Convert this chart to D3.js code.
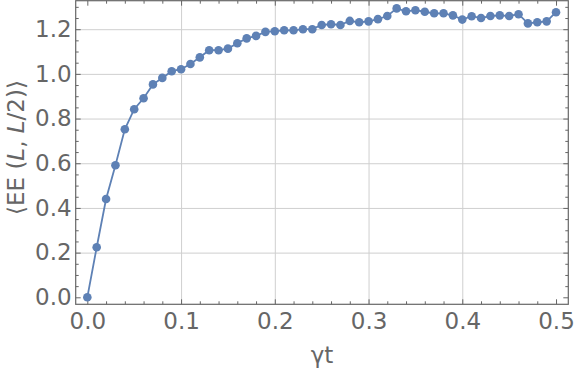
<!DOCTYPE html>
<html>
<head>
<meta charset="utf-8">
<script src="https://cdn.jsdelivr.net/npm/d3@7"></script>
<style>
  body { margin: 0; background: #fff; }
  svg { display: block; font-family: "DejaVu Sans", sans-serif; }
</style>
</head>
<body>
<div id="chart"></div>
<script>
// chart data
const gammaT = [0.00, 0.01, 0.02, 0.03, 0.04, 0.05, 0.06, 0.07, 0.08, 0.09,
                0.10, 0.11, 0.12, 0.13, 0.14, 0.15, 0.16, 0.17, 0.18, 0.19,
                0.20, 0.21, 0.22, 0.23, 0.24, 0.25, 0.26, 0.27, 0.28, 0.29,
                0.30, 0.31, 0.32, 0.33, 0.34, 0.35, 0.36, 0.37, 0.38, 0.39,
                0.40, 0.41, 0.42, 0.43, 0.44, 0.45, 0.46, 0.47, 0.48, 0.49, 0.50];
const ee = [0, 0.224, 0.440, 0.591, 0.752, 0.842, 0.891, 0.953, 0.982, 1.012,
            1.021, 1.044, 1.074, 1.106, 1.106, 1.113, 1.137, 1.159, 1.170, 1.188,
            1.191, 1.195, 1.195, 1.200, 1.200, 1.219, 1.222, 1.219, 1.237, 1.231,
            1.235, 1.245, 1.259, 1.293, 1.280, 1.285, 1.278, 1.271, 1.271, 1.262,
            1.243, 1.258, 1.250, 1.259, 1.262, 1.259, 1.267, 1.226, 1.231, 1.235, 1.276];

const xTicks = [0, 0.1, 0.2, 0.3, 0.4, 0.5];
const xTickLabels = ["0.0", "0.1", "0.2", "0.3", "0.4", "0.5"];
const xMinor = [0.02, 0.04, 0.06, 0.08, 0.12, 0.14, 0.16, 0.18, 0.22, 0.24, 0.26, 0.28,
                0.32, 0.34, 0.36, 0.38, 0.42, 0.44, 0.46, 0.48];
const xGrid = [0.1, 0.2, 0.3, 0.4];

const yTicks = [0, 0.2, 0.4, 0.6, 0.8, 1.0, 1.2];
const yTickLabels = ["0.0", "0.2", "0.4", "0.6", "0.8", "1.0", "1.2"];
const yMinor = [0.05, 0.1, 0.15, 0.25, 0.3, 0.35, 0.45, 0.5, 0.55, 0.65, 0.7, 0.75,
                0.85, 0.9, 0.95, 1.05, 1.1, 1.15, 1.25, 1.3];
const yGrid = [0.2, 0.4, 0.6, 0.8, 1.0, 1.2];

// size and plot frame
const width = 576;
const height = 372;
const frame = {left: 75.7, right: 568.3, top: 0.7, bottom: 304.3};
const lineColor = "#5e81b5";
const axisColor = "#666";
const gridColor = "#cfcfcf";

const svg = d3.select("#chart")
  .append("svg")
  .attr("width", width)
  .attr("height", height);

const xScale = d3.scaleLinear()
  .domain([-0.0124, 0.5131])
  .range([frame.left, frame.right]);

const yScale = d3.scaleLinear()
  .domain([-0.0313, 1.3275])
  .range([frame.bottom, frame.top]);

const plotW = frame.right - frame.left;
const plotH = frame.bottom - frame.top;

// grid lines
svg.append("g")
  .attr("transform", `translate(0,${frame.bottom})`)
  .call(d3.axisBottom(xScale).tickValues(xGrid).tickSize(-plotH).tickFormat(""))
  .call(g => g.select(".domain").remove())
  .call(g => g.selectAll("line").attr("stroke", gridColor));

svg.append("g")
  .attr("transform", `translate(${frame.left},0)`)
  .call(d3.axisLeft(yScale).tickValues(yGrid).tickSize(-plotW).tickFormat(""))
  .call(g => g.select(".domain").remove())
  .call(g => g.selectAll("line").attr("stroke", gridColor));

// frame ticks, all pointing inward
function frameAxis(axisFn, scale, pos, values, size, labels) {
  const ax = axisFn(scale).tickValues(values).tickSizeInner(-size).tickSizeOuter(0);
  if (labels) ax.tickFormat((d, i) => labels[i]).tickPadding(8);
  else ax.tickFormat("");
  const g = svg.append("g").attr("transform", pos).call(ax);
  g.select(".domain").remove();
  g.selectAll("line").attr("stroke", axisColor);
  g.selectAll("text")
    .attr("fill", axisColor)
    .attr("font-size", "23px")
    .attr("font-family", "DejaVu Sans, sans-serif");
  return g;
}

const bottomPos = `translate(0,${frame.bottom})`;
const topPos = `translate(0,${frame.top})`;
const leftPos = `translate(${frame.left},0)`;
const rightPos = `translate(${frame.right},0)`;

frameAxis(d3.axisBottom, xScale, bottomPos, xTicks, 5, xTickLabels);
frameAxis(d3.axisBottom, xScale, bottomPos, xMinor, 3);
frameAxis(d3.axisTop, xScale, topPos, xTicks, 5);
frameAxis(d3.axisTop, xScale, topPos, xMinor, 3);
frameAxis(d3.axisLeft, yScale, leftPos, yTicks, 5, yTickLabels)
  .selectAll("text").attr("x", -4);
frameAxis(d3.axisLeft, yScale, leftPos, yMinor, 3);
frameAxis(d3.axisRight, yScale, rightPos, yTicks, 5);
frameAxis(d3.axisRight, yScale, rightPos, yMinor, 3);

// frame
svg.append("rect")
  .attr("x", frame.left)
  .attr("y", frame.top)
  .attr("width", plotW)
  .attr("height", plotH)
  .attr("fill", "none")
  .attr("stroke", axisColor)
  .attr("stroke-width", 1.2);

// series
const line = d3.line()
  .x((d, i) => xScale(gammaT[i]))
  .y(d => yScale(d));

svg.append("path")
  .datum(ee)
  .attr("d", line)
  .attr("fill", "none")
  .attr("stroke", lineColor)
  .attr("stroke-width", 1.8);

svg.selectAll(".pt")
  .data(ee)
  .enter()
  .append("circle")
    .attr("class", "pt")
    .attr("cx", (d, i) => xScale(gammaT[i]))
    .attr("cy", d => yScale(d))
    .attr("r", 4.3)
    .attr("fill", lineColor);

// axis labels
svg.append("text")
  .attr("x", (frame.left + frame.right) / 2)
  .attr("y", 363)
  .attr("text-anchor", "middle")
  .attr("font-size", "23px")
  .attr("fill", axisColor)
  .text("γt");

const yLabel = svg.append("text")
  .attr("transform", "translate(16,147.5) rotate(-90)")
  .attr("text-anchor", "middle")
  .attr("dominant-baseline", "central")
  .attr("font-size", "23px")
  .attr("fill", axisColor);
yLabel.append("tspan").text("⟨EE (");
yLabel.append("tspan").attr("font-style", "italic").text("L");
yLabel.append("tspan").text(", ");
yLabel.append("tspan").attr("font-style", "italic").text("L");
yLabel.append("tspan").text("/2)⟩");
</script>
</body>
</html>
